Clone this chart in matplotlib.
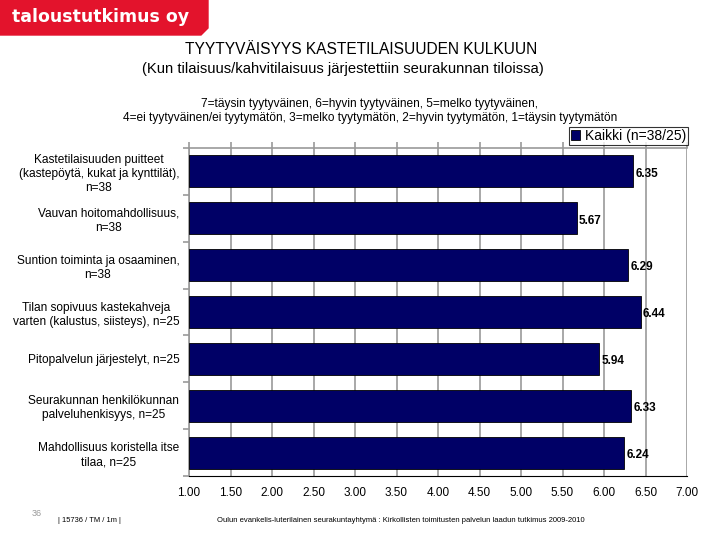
import matplotlib.pyplot as plt
from matplotlib.patches import Polygon

plt.rcParams['font.family'] = ['Liberation Sans', 'DejaVu Sans']

categories = [
    "Kastetilaisuuden puitteet\n(kastepöytä, kukat ja kynttilät),\nn=38",
    "Vauvan hoitomahdollisuus,\nn=38",
    "Suntion toiminta ja osaaminen,\nn=38",
    "Tilan sopivuus kastekahveja\nvarten (kalustus, siisteys), n=25",
    "Pitopalvelun järjestelyt, n=25",
    "Seurakunnan henkilökunnan\npalveluhenkisyys, n=25",
    "Mahdollisuus koristella itse\ntilaa, n=25",
]
values = [6.35, 5.67, 6.29, 6.44, 5.94, 6.33, 6.24]
xticks = [1.0, 1.5, 2.0, 2.5, 3.0, 3.5, 4.0, 4.5, 5.0, 5.5, 6.0, 6.5, 7.0]

fig = plt.figure(figsize=(7.2, 5.4), dpi=100)

# logo in the top left corner
logo = Polygon([(0, 1), (208 / 720, 1), (208 / 720, 1 - 28 / 540),
                (201 / 720, 1 - 35 / 540), (0, 1 - 35 / 540)],
               closed=True, transform=fig.transFigure, color='#e3132c')
fig.patches.append(logo)
fig.text(12 / 720, 1 - 17 / 540, "taloustutkimus oy", color='white',
         fontsize=12.5, fontweight='bold', va='center', ha='left',
         family=['DejaVu Sans'])

# titles
fig.text(361 / 720, 1 - 49 / 540, "TYYTYVÄISYYS KASTETILAISUUDEN KULKUUN",
         ha='center', va='center', fontsize=11.2)
fig.text(343 / 720, 1 - 69 / 540,
         "(Kun tilaisuus/kahvitilaisuus järjestettiin seurakunnan tiloissa)",
         ha='center', va='center', fontsize=10.6)
fig.text(370 / 720, 1 - 104 / 540,
         "7=täysin tyytyväinen, 6=hyvin tyytyväinen, 5=melko tyytyväinen,",
         ha='center', va='center', fontsize=8.6)
fig.text(370 / 720, 1 - 118 / 540,
         "4=ei tyytyväinen/ei tyytymätön, 3=melko tyytymätön, 2=hyvin tyytymätön, 1=täysin tyytymätön",
         ha='center', va='center', fontsize=8.6)

ax = fig.add_axes([189 / 720, 64 / 540, 498 / 720, 328 / 540])
y = list(range(len(categories)))
bars = ax.barh(y, [v - 1 for v in values], left=1, height=0.68,
               color='#000066', edgecolor='black', linewidth=0.6,
               label="Kaikki (n=38/25)", zorder=3)
for yi, v in zip(y, values):
    ax.text(v + 0.03, yi + 0.05, f"{v:.2f}", va='center', ha='left',
            fontsize=8.5, fontweight='bold', zorder=4)

ax.set_xlim(1, 7)
ax.set_ylim(len(categories) - 0.5, -0.5)
ax.set_xticks(xticks)
ax.set_xticklabels([f"{t:.2f}" for t in xticks], fontsize=8.5)
ax.set_yticks(y)
ax.set_yticklabels(categories, fontsize=8.6, multialignment='center',
                   linespacing=1.25)
ax.set_yticks([i - 0.5 for i in range(len(categories) + 1)], minor=True)
ax.tick_params(axis='y', which='major', length=0, pad=7)
ax.tick_params(axis='y', which='minor', length=4, color='#999999', width=1.2)
ax.tick_params(axis='x', bottom=False, top=True, labelbottom=True,
               labeltop=False, length=4, color='#999999', width=1.2, pad=4)
ax.xaxis.grid(True, color='#999999', linewidth=1.2, zorder=0)
for s in ['left', 'top']:
    ax.spines[s].set_color('#999999')
    ax.spines[s].set_linewidth(1.2)
ax.spines['right'].set_visible(False)
ax.spines['bottom'].set_color('black')

leg = ax.legend(loc='lower right', bbox_to_anchor=(1.002, 1.01), fontsize=10,
                frameon=True, fancybox=False, edgecolor='black',
                handlelength=0.7, handleheight=0.7, handletextpad=0.3,
                borderpad=0.15, borderaxespad=0)
leg.get_frame().set_linewidth(0.8)

# footer
fig.text(32 / 720, 1 - 513 / 540, "36", color='#999999', fontsize=6.5, ha='left', va='center')
fig.text(58 / 720, 1 - 520 / 540, "| 15736 / TM / 1m |", fontsize=5.4, ha='left', va='center')
fig.text(217 / 720, 1 - 520 / 540,
         "Oulun evankelis-luterilainen seurakuntayhtymä : Kirkollisten toimitusten palvelun laadun tutkimus 2009-2010",
         fontsize=5.5, ha='left', va='center')

fig.savefig('out.png', dpi=100)
